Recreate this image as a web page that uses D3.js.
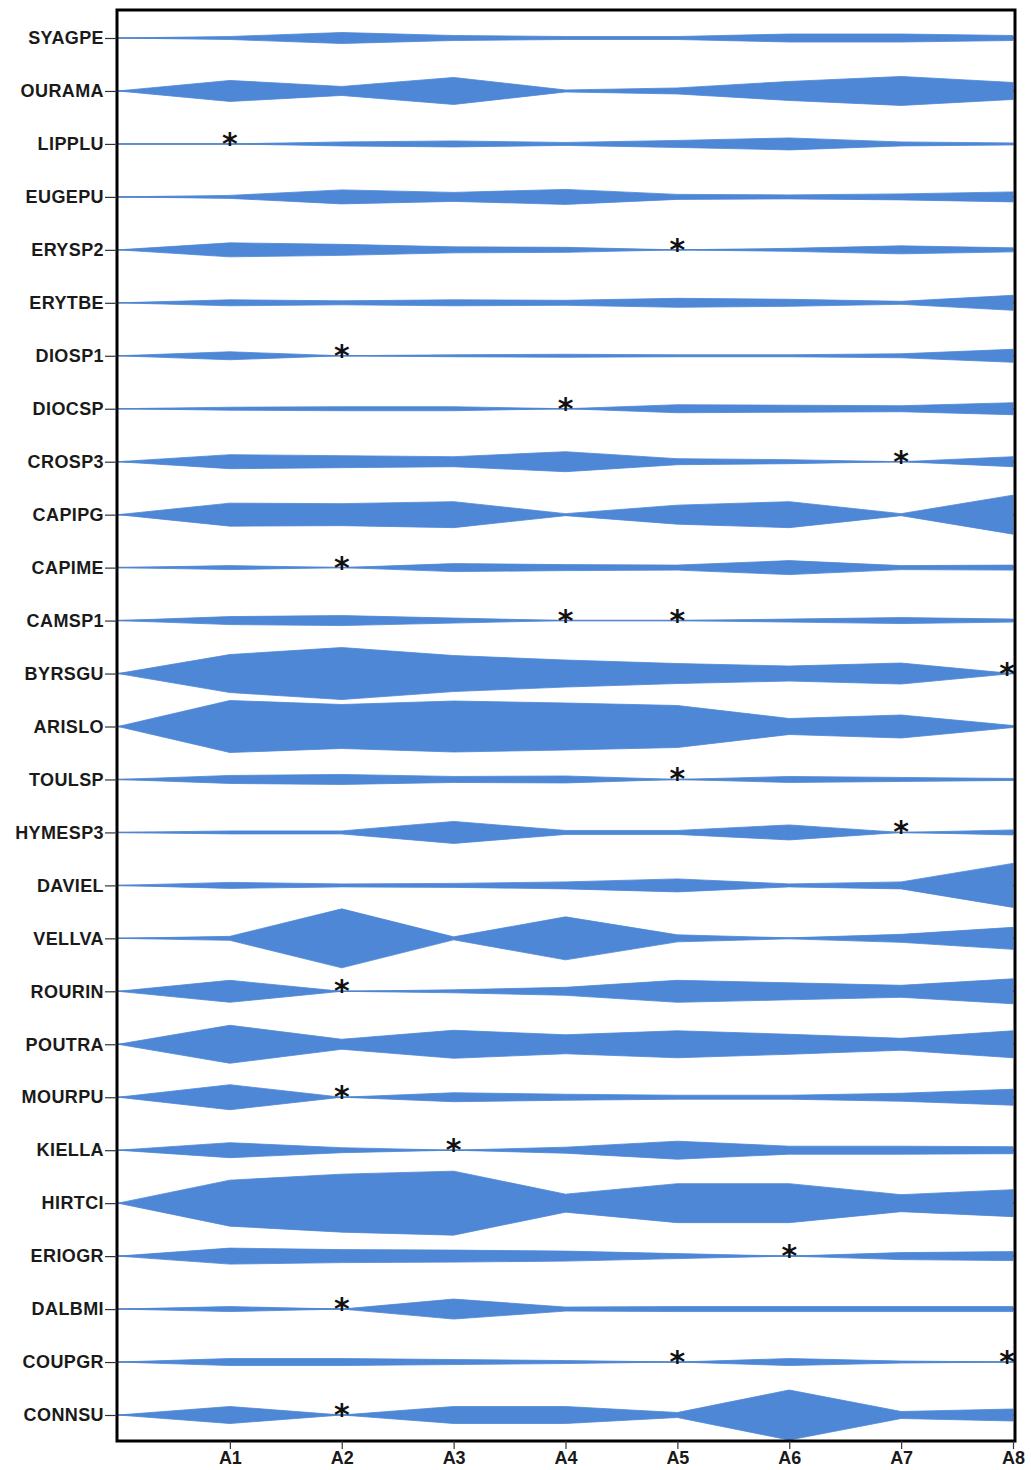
<!DOCTYPE html>
<html>
<head>
<meta charset="utf-8">
<script src="https://cdn.jsdelivr.net/npm/d3@7"></script>
<style>
  html, body { margin: 0; padding: 0; background: #ffffff; }
  svg { display: block; }
</style>
</head>
<body>
<svg id="chart" width="1031" height="1470"></svg>
<script>
// ---- Data ----
const species = ["SYAGPE","OURAMA","LIPPLU","EUGEPU","ERYSP2","ERYTBE","DIOSP1","DIOCSP","CROSP3",
  "CAPIPG","CAPIME","CAMSP1","BYRSGU","ARISLO","TOULSP","HYMESP3","DAVIEL","VELLVA","ROURIN",
  "POUTRA","MOURPU","KIELLA","HIRTCI","ERIOGR","DALBMI","COUPGR","CONNSU"];
const sites = ["", "A1","A2","A3","A4","A5","A6","A7","A8"];
// abundance (kite width) at origin and sites A1..A8, one array per species
const SYAGPE = [0, 3, 11, 5, 3, 3, 8, 8, 5];
const OURAMA = [0, 21, 9, 27, 2, 6, 19, 29, 17];
const LIPPLU = [0, 0, 4, 6, 3, 7, 12, 4, 2];
const EUGEPU = [0, 3, 14, 9, 15, 5, 4, 6, 10];
const ERYSP2 = [0, 14, 11, 6, 5, 0, 3, 8, 4];
const ERYTBE = [0, 6, 4, 6, 5, 9, 7, 3, 15];
const DIOSP1 = [0, 8, 0, 2, 3, 2, 2, 4, 13];
const DIOCSP = [0, 3, 4, 4, 0, 8, 7, 6, 12];
const CROSP3 = [0, 14, 12, 10, 20, 6, 4, 0, 10];
const CAPIPG = [0, 23, 22, 26, 2, 19, 26, 2, 39];
const CAPIME = [0, 4, 0, 8, 6, 5, 14, 4, 5];
const CAMSP1 = [0, 8, 10, 5, 0, 0, 3, 6, 3];
const BYRSGU = [0, 38, 52, 36, 27, 20, 15, 21, 0];
const ARISLO = [0, 52, 44, 51, 47, 42, 16, 23, 2];
const TOULSP = [0, 8, 10, 6, 7, 0, 6, 4, 2];
const HYMESP3 = [0, 3, 3, 22, 4, 4, 15, 0, 5];
const DAVIEL = [0, 6, 3, 4, 7, 13, 3, 7, 44];
const VELLVA = [0, 4, 59, 3, 43, 7, 1, 8, 22];
const ROURIN = [0, 22, 0, 3, 8, 22, 17, 12, 25];
const POUTRA = [0, 38, 10, 28, 19, 27, 20, 12, 27];
const MOURPU = [0, 25, 0, 9, 6, 4, 4, 8, 16];
const KIELLA = [0, 15, 5, 0, 6, 18, 8, 8, 7];
const HIRTCI = [0, 46, 58, 64, 18, 39, 39, 17, 27];
const ERIOGR = [0, 16, 13, 12, 10, 5, 0, 7, 9];
const DALBMI = [0, 5, 0, 20, 4, 5, 5, 5, 5];
const COUPGR = [0, 7, 7, 5, 3, 0, 7, 2, 0];
const CONNSU = [0, 17, 0, 17, 17, 5, 50, 7, 12];
const values = [SYAGPE, OURAMA, LIPPLU, EUGEPU, ERYSP2, ERYTBE, DIOSP1, DIOCSP, CROSP3,
  CAPIPG, CAPIME, CAMSP1, BYRSGU, ARISLO, TOULSP, HYMESP3, DAVIEL, VELLVA, ROURIN,
  POUTRA, MOURPU, KIELLA, HIRTCI, ERIOGR, DALBMI, COUPGR, CONNSU];

(function () {
// ---- Layout ----
const svg = d3.select("#chart");
const mLeft = 117, mRight = 1015, mTop = 10, mBottom = 1441;
const fontFam = "'Liberation Sans', Arial, sans-serif";

const x = d3.scaleLinear().domain([0, 8]).range([mLeft + 1, 1013]);
const y = d3.scalePoint().domain(species).range([38, 1415]);
const w = d3.scaleLinear().domain([0, 70]).range([0, 35]);

const fill = "#4d87d6";

// centre lines
svg.append("g").selectAll("line").data(species).join("line")
  .attr("x1", mLeft).attr("x2", mRight)
  .attr("y1", d => y(d)).attr("y2", d => y(d))
  .attr("stroke", "#6582ad").attr("stroke-width", 1.5);

// kites
const area = d3.area()
  .x((d, i) => x(i))
  .y0(d => -w(d))
  .y1(d => w(d));

const rows = svg.append("g").selectAll("g").data(species).join("g")
  .attr("transform", d => `translate(0,${y(d)})`);
rows.append("path")
  .attr("d", (d, i) => area(values[i]))
  .attr("fill", fill)
  .attr("stroke", fill).attr("stroke-width", 0.8);

// asterisks for absent values
rows.each(function(d, ri) {
  const g = d3.select(this);
  values[ri].forEach((v, i) => {
    if (i > 0 && v === 0) {
      g.append("text")
        .attr("x", x(i) + (i === 8 ? -6 : 0))
        .attr("y", 10)
        .attr("text-anchor", "middle")
        .attr("font-family", "'DejaVu Sans', sans-serif")
        .attr("font-weight", "bold")
        .attr("font-size", 30)
        .attr("fill", "#111")
        .text("*");
    }
  });
});

// frame
svg.append("rect")
  .attr("x", mLeft).attr("y", mTop)
  .attr("width", mRight - mLeft).attr("height", mBottom - mTop)
  .attr("fill", "none").attr("stroke", "#000").attr("stroke-width", 3);

// y axis
const yAxis = d3.axisLeft(y).tickSize(12).tickPadding(1);
const gy = svg.append("g").attr("transform", `translate(${mLeft},0)`).call(yAxis);
gy.select(".domain").remove();
gy.selectAll(".tick line").attr("stroke", "#333").attr("stroke-width", 1.2);
gy.selectAll(".tick text")
  .attr("font-family", fontFam).attr("font-weight", "bold")
  .attr("font-size", 18).attr("letter-spacing", 0.4).attr("fill", "#1a1a1a");

// x axis
const xAxis = d3.axisBottom(x).tickValues(d3.range(1, 9))
  .tickFormat(i => sites[i]).tickSize(8).tickPadding(2);
const gx = svg.append("g").attr("transform", `translate(0,${mBottom})`).call(xAxis);
gx.select(".domain").remove();
gx.selectAll(".tick line").attr("stroke", "#333").attr("stroke-width", 1.2);
gx.selectAll(".tick text")
  .attr("font-family", fontFam).attr("font-weight", "bold")
  .attr("font-size", 18).attr("fill", "#1a1a1a");
})();
</script>
</body>
</html>
